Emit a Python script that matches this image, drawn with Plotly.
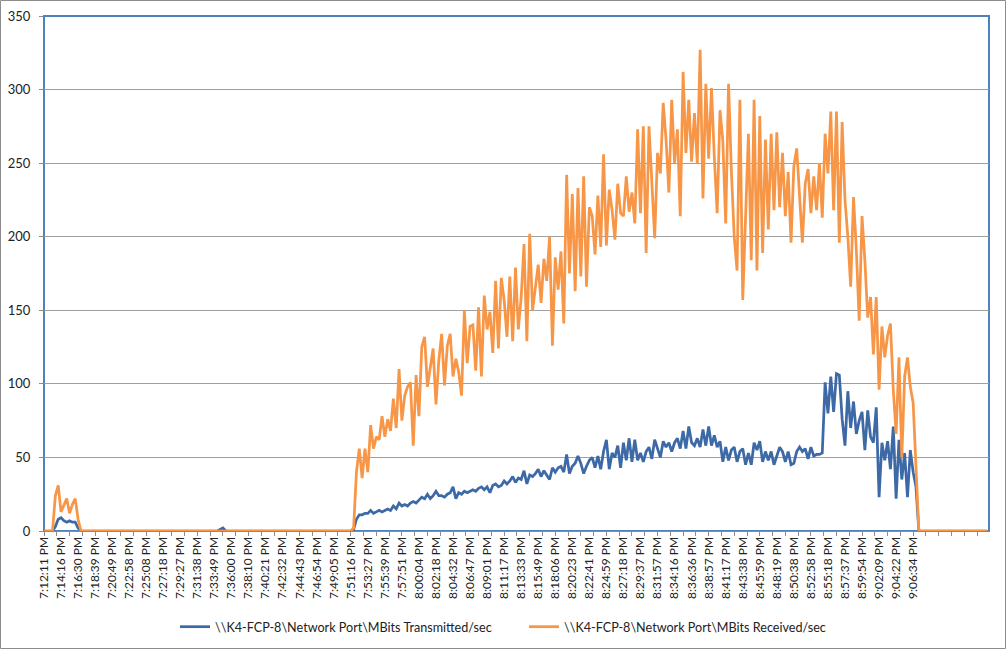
import plotly.graph_objects as go

# Category tick labels (one every 6 samples)
time_labels = [
    "7:12:11 PM", "7:14:16 PM", "7:16:30 PM", "7:18:39 PM", "7:20:49 PM", "7:22:58 PM",
    "7:25:08 PM", "7:27:18 PM", "7:29:27 PM", "7:31:38 PM", "7:33:49 PM", "7:36:00 PM",
    "7:38:10 PM", "7:40:21 PM", "7:42:32 PM", "7:44:43 PM", "7:46:54 PM", "7:49:05 PM",
    "7:51:16 PM", "7:53:27 PM", "7:55:39 PM", "7:57:51 PM", "8:00:04 PM", "8:02:18 PM",
    "8:04:32 PM", "8:06:47 PM", "8:09:01 PM", "8:11:17 PM", "8:13:33 PM", "8:15:49 PM",
    "8:18:06 PM", "8:20:23 PM", "8:22:41 PM", "8:24:59 PM", "8:27:18 PM", "8:29:37 PM",
    "8:31:57 PM", "8:34:16 PM", "8:36:36 PM", "8:38:57 PM", "8:41:17 PM", "8:43:38 PM",
    "8:45:59 PM", "8:48:19 PM", "8:50:38 PM", "8:52:58 PM", "8:55:18 PM", "8:57:37 PM",
    "8:59:54 PM", "9:02:09 PM", "9:04:22 PM", "9:06:34 PM",
]
samples_per_label = 6

transmitted = [
    0, 0, 0, 0, 3, 8, 9, 7, 6, 7, 6, 6, 2, 0, 0, 0, 0, 0, 0, 0,
    0, 0, 0, 0, 0, 0, 0, 0, 0, 0, 0, 0, 0, 0, 0, 0, 0, 0, 0, 0,
    0, 0, 0, 0, 0, 0, 0, 0, 0, 0, 0, 0, 0, 0, 0, 0, 0, 0, 0, 0,
    0, 0, 1, 2, 0, 0, 0, 0, 0, 0, 0, 0, 0, 0, 0, 0, 0, 0, 0, 0,
    0, 0, 0, 0, 0, 0, 0, 0, 0, 0, 0, 0, 0, 0, 0, 0, 0, 0, 0, 0,
    0, 0, 0, 0, 0, 0, 0, 0, 0, 1,
    8, 11, 11, 12, 12, 14, 12, 13, 14, 13,
    14, 15, 14, 17, 15, 19, 17, 18, 17, 19,
    20, 19, 21, 23, 22, 25, 22, 24, 27, 24,
    24, 23, 25, 26, 30, 22, 26, 25, 27, 26,
    27, 28, 27, 29, 30, 28, 30, 26, 31, 32,
    30, 31, 34, 32, 34, 37, 33, 36, 35, 41,
    32, 38, 37, 39, 42, 37, 41, 38, 35, 43,
    40, 43, 44, 40, 52, 39, 44, 46, 51, 46,
    39, 44, 48, 50, 43, 51, 42, 54, 62, 42,
    53, 50, 58, 43, 60, 48, 63, 47, 62, 48,
    53, 47, 54, 57, 49, 62, 56, 50, 61, 57,
    60, 54, 60, 63, 56, 68, 56, 71, 60, 58,
    63, 57, 69, 58, 71, 58, 65, 57, 61, 47,
    57, 48, 55, 57, 47, 54, 56, 45, 53, 45,
    60, 55, 61, 47, 54, 48, 54, 45, 51, 57,
    54, 47, 54, 45, 46, 54, 57, 54, 56, 49,
    57, 51, 52, 52, 53, 101, 80, 105, 81, 107,
    106, 76, 58, 95, 70, 88, 66, 75, 81, 55,
    82, 64, 60, 84, 23, 60, 48, 61, 42, 71,
    22, 62, 35, 53, 23, 55, 40, 30, 0, 0,
    0, 0, 0, 0, 0, 0, 0, 0, 0, 0,
    0, 0, 0, 0, 0, 0, 0, 0, 0, 0,
    0, 0, 0,
]

received = [
    0, 0, 0, 0, 24, 31, 13, 18, 22, 12, 18, 22, 8, 0, 0, 0, 0, 0, 0, 0,
    0, 0, 0, 0, 0, 0, 0, 0, 0, 0, 0, 0, 0, 0, 0, 0, 0, 0, 0, 0,
    0, 0, 0, 0, 0, 0, 0, 0, 0, 0, 0, 0, 0, 0, 0, 0, 0, 0, 0, 0,
    0, 0, 0, 0, 0, 0, 0, 0, 0, 0, 0, 0, 0, 0, 0, 0, 0, 0, 0, 0,
    0, 0, 0, 0, 0, 0, 0, 0, 0, 0, 0, 0, 0, 0, 0, 0, 0, 0, 0, 0,
    0, 0, 0, 0, 0, 0, 0, 0, 0, 2,
    40, 56, 36, 56, 40, 72, 56, 64, 62, 78,
    64, 76, 68, 90, 70, 110, 75, 92, 98, 101,
    58, 106, 78, 125, 132, 98, 110, 124, 86, 116,
    134, 99, 126, 134, 105, 117, 108, 92, 150, 114,
    139, 140, 109, 152, 105, 160, 137, 149, 121, 170,
    124, 172, 157, 132, 173, 129, 179, 137, 159, 195,
    129, 202, 150, 165, 181, 155, 185, 170, 200, 126,
    186, 164, 190, 141, 242, 175, 229, 163, 233, 173,
    241, 166, 220, 214, 188, 228, 193, 256, 194, 232,
    218, 198, 236, 216, 214, 241, 217, 230, 209, 273,
    216, 275, 189, 275, 241, 199, 257, 243, 291, 266,
    230, 293, 250, 273, 214, 312, 257, 293, 251, 284,
    250, 327, 226, 304, 253, 301, 254, 216, 286, 265,
    209, 304, 245, 200, 177, 293, 157, 220, 270, 184,
    293, 177, 282, 189, 266, 205, 270, 218, 271, 220,
    257, 214, 244, 196, 248, 260, 225, 196, 236, 246,
    216, 241, 218, 250, 213, 270, 243, 285, 218, 285,
    196, 278, 225, 200, 166, 227, 191, 143, 214, 184,
    145, 159, 120, 159, 96, 139, 118, 133, 141, 96,
    66, 118, 50, 105, 118, 98, 87, 40, 0, 0,
    0, 0, 0, 0, 0, 0, 0, 0, 0, 0,
    0, 0, 0, 0, 0, 0, 0, 0, 0, 0,
    0, 0, 0,
]

series_names = [
    r"\\K4-FCP-8\Network Port\MBits Transmitted/sec",
    r"\\K4-FCP-8\Network Port\MBits Received/sec",
]

x_idx = list(range(len(received)))
tick_positions = [i * samples_per_label for i in range(len(time_labels))]

FONT = "Lato, 'Open Sans', sans-serif"

fig = go.Figure()
fig.add_trace(go.Scatter(
    x=x_idx, y=transmitted, mode="lines", name=series_names[0],
    line=dict(color="#3d6aa6", width=2.75),
))
fig.add_trace(go.Scatter(
    x=x_idx, y=received, mode="lines", name=series_names[1],
    line=dict(color="#f79646", width=2.75),
))

L, R, T, B = 44, 17, 16, 118
W, H = 1006, 649
pw, ph = W - L - R, H - T - B

fig.update_layout(
    width=W, height=H,
    margin=dict(l=L, r=R, t=T, b=B, pad=0, autoexpand=False),
    paper_bgcolor="white", plot_bgcolor="white",
    font=dict(family=FONT, size=12, color="#222222"),
    showlegend=True,
    legend=dict(
        orientation="h", x=(175 - L) / pw, xanchor="left",
        y=(531 - 627) / ph, yanchor="middle",
        font=dict(family=FONT, size=12.6, color="#222222"),
        bgcolor="rgba(0,0,0,0)", entrywidth=304, entrywidthmode="pixels",
    ),
    xaxis=dict(
        range=[0, 332.7], tickmode="array", tickvals=tick_positions, ticktext=time_labels,
        tickangle=-90, tickfont=dict(family=FONT, size=12, color="#222222"),
        showgrid=False, zeroline=False, showline=True, linecolor="#8c8c8c", linewidth=1,
        ticks="", automargin=False,
        minor=dict(ticks="outside", ticklen=4, tickcolor="#8c8c8c", dtick=4.5, tick0=0, showgrid=False),
        fixedrange=True,
    ),
    yaxis=dict(
        range=[0, 350], dtick=50, tick0=0,
        tickfont=dict(family=FONT, size=13, color="#222222"),
        showgrid=True, gridcolor="#a0a0a0", gridwidth=1,
        zeroline=False, showline=False, automargin=False,
        ticks="outside", ticklen=4, tickcolor="#8c8c8c",
        ticklabelstandoff=6, fixedrange=True,
    ),
    shapes=[
        dict(type="rect", xref="paper", yref="paper", x0=0, x1=1, y0=0, y1=1,
             line=dict(color="#4f81bd", width=2), layer="between"),
        dict(type="rect", xref="paper", yref="paper",
             x0=-(L - 0.5) / pw, x1=(W - 0.5 - L) / pw,
             y0=-(B - 0.5) / ph, y1=1 + (T - 0.5) / ph,
             line=dict(color="#8c8c8c", width=1), layer="below"),
    ],
)

fig.write_html(
    "out.html",
    config={"displayModeBar": False},
    post_script="document.body.style.margin='0px';document.body.style.overflow='hidden';",
)
